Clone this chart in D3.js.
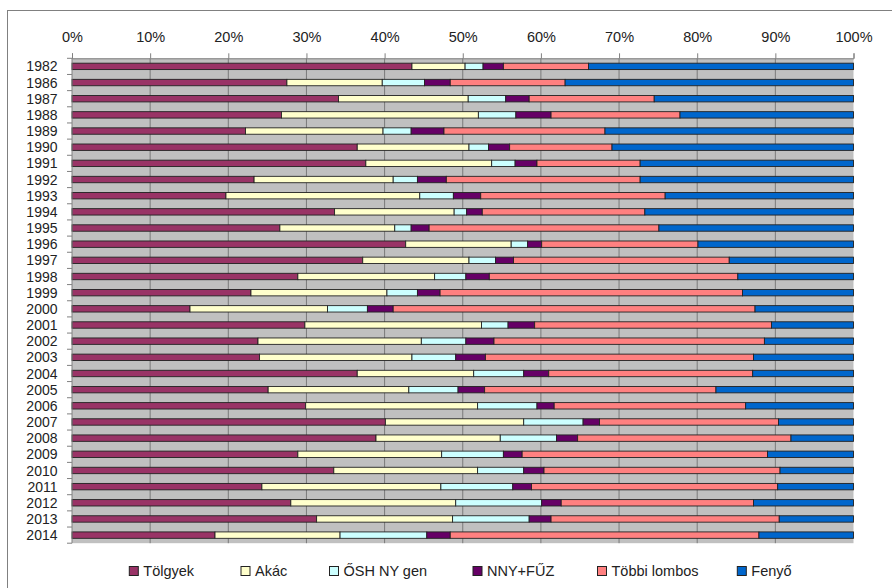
<!DOCTYPE html>
<html><head><meta charset="utf-8">
<script src="https://cdn.jsdelivr.net/npm/d3@7"></script>
<style>
html,body{margin:0;padding:0;background:#fff;}
svg{display:block;font-family:"Liberation Sans",Arial,sans-serif;}
</style></head>
<body><svg id="c" width="892" height="588"></svg>
<script>
const years = ["1982","1986","1987","1988","1989","1990","1991","1992","1993","1994","1995","1996","1997","1998","1999","2000","2001","2002","2003","2004","2005","2006","2007","2008","2009","2010","2011","2012","2013","2014"];
const seriesNames = ["Tölgyek","Akác","ŐSH NY gen","NNY+FŰZ","Többi lombos","Fenyő"];
const seriesColors = ["#993366","#FFFFCC","#CCFFFF","#660066","#FF8080","#0066CC"];
const tolgyek = [43.5,27.5,34.1,26.8,22.2,36.5,37.6,23.3,19.7,33.6,26.6,42.7,37.2,28.9,22.9,15.1,29.8,23.8,24.0,36.5,25.1,29.9,40.1,38.9,28.9,33.5,24.3,28.0,31.3,18.3];
const akac    = [6.8,12.2,16.6,25.2,17.6,14.3,16.1,17.8,24.8,15.3,14.7,13.5,13.6,17.5,17.4,17.6,22.6,20.9,19.5,14.9,18.0,22.0,17.7,15.9,18.4,18.4,22.9,21.1,17.4,16.0];
const osh     = [2.3,5.4,4.8,4.8,3.6,2.5,3.0,3.1,4.3,1.6,2.1,2.1,3.4,4.0,3.9,5.1,3.4,5.7,5.6,6.4,6.3,7.6,7.6,7.2,7.9,5.9,9.2,11.0,9.8,11.1];
const nnyfuz  = [2.6,3.3,3.0,4.5,4.2,2.7,2.8,3.7,3.5,2.0,2.3,1.8,2.3,3.0,2.9,3.3,3.4,3.6,3.8,3.2,3.4,2.2,2.1,2.7,2.4,2.6,2.4,2.5,2.8,3.0];
const tobbi   = [10.9,14.7,16.0,16.5,20.6,13.1,13.2,24.8,23.6,20.8,29.4,20.0,27.6,31.8,38.7,46.3,30.3,34.6,34.3,26.1,29.6,24.5,22.9,27.3,31.4,30.2,31.5,24.6,29.2,39.5];
const fenyo   = [33.9,36.9,25.5,22.2,31.8,30.9,27.3,27.3,24.1,26.7,24.9,19.9,15.9,14.8,14.2,12.6,10.5,11.4,12.8,12.9,17.6,13.8,9.6,8.0,11.0,9.4,9.7,12.8,9.5,12.1];
const tickValues = [0,10,20,30,40,50,60,70,80,90,100];

const seriesValues = [tolgyek,akac,osh,nnyfuz,tobbi,fenyo];
const table = years.map((y,i)=>{
  const o = {year:y};
  seriesNames.forEach((s,k)=>{o[s]=seriesValues[k][i];});
  return o;
});

const svg = d3.select("#c");
const L = 72, R = 853.5, T = 58.3, B = 543.2;

// outer frame
svg.append("rect").attr("x",7.5).attr("y",10.5).attr("width",900).attr("height",600)
  .attr("fill","#fff").attr("stroke","#808080").attr("stroke-width",1);

const x = d3.scaleLinear().domain([0,100]).range([L,R]);
const y = d3.scaleBand().domain(years).range([T,B]);
const barH = 6.4;

// plot background
svg.append("rect").attr("x",x(0)).attr("y",T).attr("width",x(100)-x(0)).attr("height",B-T)
  .attr("fill","#C0C0C0");

// gridlines
svg.append("g").selectAll("line").data(tickValues.filter(d=>d>0&&d<100)).join("line")
  .attr("x1",d=>x(d)).attr("x2",d=>x(d)).attr("y1",T).attr("y2",B)
  .attr("stroke","#7a7a7a").attr("stroke-width",1);

// stacked bars
const stack = d3.stack().keys(seriesNames);
const stacked = stack(table);
const norm = d => d; // values already in percent
svg.append("g").selectAll("g").data(stacked).join("g")
  .attr("fill",(d,i)=>seriesColors[i])
  .selectAll("rect").data(d=>d).join("rect")
  .attr("x",d=>x(norm(d[0])))
  .attr("width",d=>Math.max(0,x(norm(d[1]))-x(norm(d[0]))))
  .attr("y",d=>y(d.data.year)+y.bandwidth()/2-barH/2)
  .attr("height",barH)
  .attr("stroke","#222").attr("stroke-width",0.9);

// top axis
const ax = d3.axisTop(x).tickValues(tickValues).tickFormat(d=>d+"%").tickSize(5).tickPadding(11);
const gx = svg.append("g").attr("transform",`translate(0,${T})`).call(ax);
gx.select(".domain").attr("stroke","#808080");
gx.selectAll(".tick line").attr("stroke","#808080");
gx.selectAll("text").attr("font-size",14.5).attr("fill","#222")
  .attr("font-family","'Liberation Sans',Arial,sans-serif");

// left axis (category boundaries as ticks)
const gy = svg.append("g");
gy.append("line").attr("x1",L).attr("x2",L).attr("y1",T).attr("y2",B).attr("stroke","#808080");
gy.selectAll("line.tk").data(years.concat(["_end"])).join("line").attr("class","tk")
  .attr("x1",L-5).attr("x2",L)
  .attr("y1",d=>d==="_end"?B:y(d)).attr("y2",d=>d==="_end"?B:y(d))
  .attr("stroke","#808080");
gy.selectAll("text").data(years).join("text")
  .attr("x",L-14.5).attr("y",d=>y(d)+y.bandwidth()/2)
  .attr("dy","0.36em").attr("text-anchor","end")
  .attr("font-size",14).attr("fill","#222").text(d=>d);

// legend
const legendX = [129.3,241,329.5,473,597.5,737.3];
const lg = svg.append("g").selectAll("g").data(seriesNames).join("g")
  .attr("transform",(d,i)=>`translate(${legendX[i]},571)`);
lg.append("rect").attr("x",0).attr("y",-4.5).attr("width",9).attr("height",9)
  .attr("fill",(d,i)=>seriesColors[i]).attr("stroke","#222").attr("stroke-width",1);
lg.append("text").attr("x",14).attr("y",0).attr("dy","0.36em")
  .attr("font-size",14.5).attr("fill","#222").text(d=>d);
</script>
</body></html>
